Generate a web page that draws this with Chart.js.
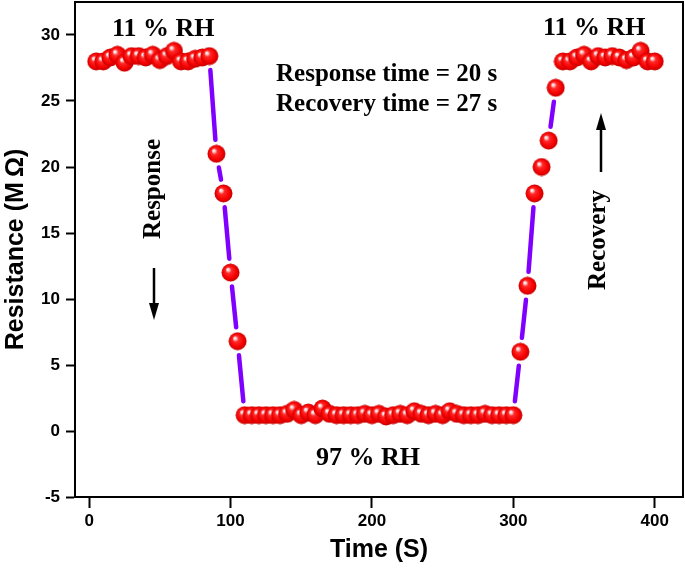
<!DOCTYPE html>
<html>
<head>
<meta charset="utf-8">
<script src="https://cdn.jsdelivr.net/npm/chart.js@4.4.0/dist/chart.umd.min.js"></script>
<style>
html, body { margin: 0; padding: 0; background: #fff; }
#chart { display: block; }
</style>
</head>
<body>
<canvas id="chart" width="685" height="571"></canvas>
<script>
// Time (s) and resistance (MOhm)
const timeS = [
  5, 10, 15, 20, 25, 30, 35, 40, 45, 50, 55, 60, 65, 70, 75, 80, 85,
  90, 95, 100, 105,
  110, 115, 120, 125, 130, 135, 140, 145, 150, 155, 160, 165, 170, 175, 180, 185, 190, 195, 200,
  205, 210, 215, 220, 225, 230, 235, 240, 245, 250, 255, 260, 265, 270, 275, 280, 285, 290, 295, 300,
  305, 310, 315, 320, 325, 330,
  335, 340, 345, 350, 355, 360, 365, 370, 375, 380, 385, 390, 395, 400
];
const resistance = [
  28.0, 28.0, 28.3, 28.5, 27.9, 28.4, 28.4, 28.3, 28.5, 28.1, 28.4, 28.8, 28.0, 28.0, 28.2, 28.3, 28.4,
  21.0, 18.0, 12.0, 6.8,
  1.2, 1.2, 1.2, 1.2, 1.2, 1.2, 1.3, 1.6, 1.2, 1.4, 1.2, 1.7, 1.3, 1.2, 1.2, 1.2, 1.2, 1.3, 1.2,
  1.3, 1.1, 1.2, 1.3, 1.2, 1.5, 1.3, 1.2, 1.3, 1.2, 1.5, 1.3, 1.2, 1.2, 1.2, 1.3, 1.2, 1.2, 1.2, 1.2,
  6.0, 11.0, 18.0, 20.0, 22.0, 26.0,
  28.0, 28.0, 28.3, 28.5, 28.0, 28.4, 28.3, 28.4, 28.3, 28.1, 28.3, 28.8, 28.0, 28.0
];
const xTickValues = [0, 100, 200, 300, 400];
const yTickValues = [-5, 0, 5, 10, 15, 20, 25, 30];

// red shaded ball used as the point marker
function makeSphere(r) {
  const c = document.createElement('canvas');
  c.width = c.height = r * 2 + 1;
  const g = c.getContext('2d');
  const cx = r + 0.5, cy = r + 0.5;
  const grad = g.createRadialGradient(cx - 3, cy - 3.5, 0, cx, cy, r);
  grad.addColorStop(0, '#ffffff');
  grad.addColorStop(0.14, '#ffd8d8');
  grad.addColorStop(0.34, '#ff2a2a');
  grad.addColorStop(0.75, '#f50000');
  grad.addColorStop(1, '#c40000');
  g.fillStyle = grad;
  g.beginPath();
  g.arc(cx, cy, r, 0, Math.PI * 2);
  g.fill();
  return c;
}
const sphere = makeSphere(9);

// purple connecting line, stopping short of each ball
const gapLine = {
  id: 'gapLine',
  beforeDatasetsDraw(chart) {
    const pts = chart.getDatasetMeta(0).data;
    const ctx = chart.ctx;
    const gap = 14;
    ctx.save();
    ctx.strokeStyle = '#8000ff';
    ctx.lineWidth = 4.5;
    ctx.lineCap = 'round';
    for (let i = 1; i < pts.length; i++) {
      const a = pts[i - 1], b = pts[i];
      const dx = b.x - a.x, dy = b.y - a.y;
      const len = Math.hypot(dx, dy);
      if (len <= 2 * gap) continue;
      const ux = dx / len, uy = dy / len;
      ctx.beginPath();
      ctx.moveTo(a.x + ux * gap, a.y + uy * gap);
      ctx.lineTo(b.x - ux * gap, b.y - uy * gap);
      ctx.stroke();
    }
    ctx.restore();
  }
};

function arrow(ctx, x, y1, y2) {
  // shaft from y1 to the head, head pointing at y2
  const dir = y2 > y1 ? 1 : -1;
  ctx.beginPath();
  ctx.moveTo(x, y1);
  ctx.lineTo(x, y2 - dir * 14);
  ctx.lineWidth = 2.5;
  ctx.stroke();
  ctx.beginPath();
  ctx.moveTo(x, y2);
  ctx.lineTo(x - 5, y2 - dir * 17);
  ctx.lineTo(x + 5, y2 - dir * 17);
  ctx.closePath();
  ctx.fill();
}

// frame and text notes
const notes = {
  id: 'notes',
  afterDraw(chart) {
    const ctx = chart.ctx;
    const a = chart.chartArea;
    ctx.save();
    ctx.strokeStyle = '#000';
    ctx.lineWidth = 2;
    ctx.strokeRect(a.left, a.top, a.right - a.left, a.bottom - a.top);

    ctx.fillStyle = '#000';
    ctx.textBaseline = 'alphabetic';
    ctx.textAlign = 'left';
    ctx.font = 'bold 26px "Liberation Serif"';
    ctx.fillText('11 % RH', 112, 36);
    ctx.fillText('11 % RH', 543, 35);
    ctx.fillText('97 % RH', 316, 465);
    ctx.font = 'bold 25px "Liberation Serif"';
    ctx.fillText('Response time = 20 s', 276, 81);
    ctx.fillText('Recovery time = 27 s', 276, 111);

    ctx.textAlign = 'center';
    ctx.textBaseline = 'middle';
    ctx.save();
    ctx.translate(154, 189);
    ctx.rotate(-Math.PI / 2);
    ctx.fillText('Response', 0, 0);
    ctx.restore();
    ctx.save();
    ctx.translate(599, 240);
    ctx.rotate(-Math.PI / 2);
    ctx.fillText('Recovery', 0, 0);
    ctx.restore();

    ctx.strokeStyle = '#000';
    arrow(ctx, 154, 268, 320);
    arrow(ctx, 601, 172, 113);
    ctx.restore();
  }
};

function noPad(s) {
  s.paddingTop = 0;
  s.paddingBottom = 0;
  s.paddingLeft = 0;
  s.paddingRight = 0;
}

const axisFont = { family: '"Liberation Sans", Arial, sans-serif', size: 17, weight: 'bold' };
const titleFont = { family: '"Liberation Sans", Arial, sans-serif', size: 25, weight: 'bold' };

new Chart(document.getElementById('chart'), {
  type: 'scatter',
  data: {
    datasets: [{
      data: timeS.map((t, i) => ({ x: t, y: resistance[i] })),
      pointStyle: sphere,
      pointRadius: 9,
      showLine: false
    }]
  },
  options: {
    responsive: false,
    animation: false,
    layout: { autoPadding: false, padding: { top: 2, right: 2, left: 0, bottom: 0 } },
    plugins: { legend: { display: false }, tooltip: { enabled: false } },
    scales: {
      x: {
        type: 'linear',
        min: -10,
        max: 420,
        afterBuildTicks: s => { s.ticks = xTickValues.map(v => ({ value: v })); },
        afterFit: s => { s.height = 74; noPad(s); },
        grid: { drawOnChartArea: false, drawTicks: true, tickLength: 11, tickColor: '#000', tickWidth: 2 },
        border: { color: '#000', width: 2 },
        ticks: { color: '#000', font: axisFont, padding: 3, maxRotation: 0 },
        title: { display: true, text: 'Time (S)', color: '#000', font: titleFont, padding: { top: 0, bottom: 6 } }
      },
      y: {
        min: -5,
        max: 32.5,
        afterBuildTicks: s => { s.ticks = yTickValues.map(v => ({ value: v })); },
        afterFit: s => { s.width = 75; noPad(s); },
        grid: { drawOnChartArea: false, drawTicks: true, tickLength: 9, tickColor: '#000', tickWidth: 2 },
        border: { color: '#000', width: 2 },
        ticks: { color: '#000', font: axisFont, padding: 6 },
        title: { display: true, text: 'Resistance (M\u2009Ω)', color: '#000', font: titleFont, padding: { top: 1, bottom: 0 } }
      }
    }
  },
  plugins: [gapLine, notes]
});
</script>
</body>
</html>
